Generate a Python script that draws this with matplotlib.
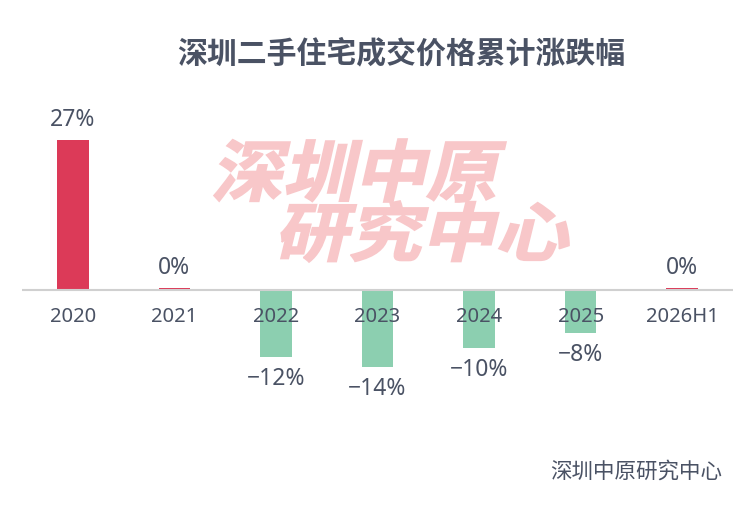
import numpy as np
import matplotlib.pyplot as plt
from matplotlib.textpath import TextPath
from matplotlib.patches import PathPatch
from matplotlib.font_manager import FontProperties
from matplotlib.transforms import Affine2D, IdentityTransform

plt.rcParams['font.family'] = ['Noto Sans CJK SC', 'DejaVu Sans']

# 数据
categories = ['2020', '2021', '2022', '2023', '2024', '2025', '2026H1']
values = [27.0, 0.3, -12.0, -13.9, -10.4, -7.7, 0.3]
labels = ['27%', '0%', '−12%', '−14%', '−10%', '−8%', '0%']

title = '深圳二手住宅成交价格累计涨跌幅'
source = '深圳中原研究中心'
watermark = ['深圳中原', '研究中心']

red = '#dc3a58'
green = '#8ccfb0'
txt = '#4a5264'
num_font = ['Noto Sans', 'Noto Sans CJK SC']

W, H = 755, 515
fig = plt.figure(figsize=(W / 100, H / 100), dpi=100)
fig.patch.set_facecolor('white')

# 水印 (斜体粗字)
fp = FontProperties(family='Noto Sans CJK SC', weight='heavy')
boxes = [(213, 138, 507, 203), (280, 200, 570, 263)]  # left, top, right, bottom (px from top)
for s, (l, t, r, b) in zip(watermark, boxes):
    p = TextPath((0, 0), s, size=70, prop=fp)
    p = p.transformed(Affine2D().skew_deg(12, 0))
    e = p.get_extents()
    tr = (Affine2D().translate(-e.x0, -e.y0)
          .scale((r - l - 2) / e.width, (b - t - 2) / e.height)
          .translate(l + 1, H - b + 1))
    fig.patches.append(PathPatch(tr.transform_path(p), facecolor='#f8c7c9',
                                 edgecolor='#f8c7c9', lw=1.2, joinstyle='miter',
                                 transform=IdentityTransform(),
                                 figure=fig, zorder=0))

ax = fig.add_axes([22 / W, 1 - 420 / H, (733 - 22) / W, 320 / H])
ax.set_facecolor('none')
ax.set_axisbelow(False)

x = np.arange(len(categories))
colors = [red if v >= 0 else green for v in values]
ax.bar(x, values, width=0.31, color=colors, zorder=1)
ax.axhline(0, color='#d0d0d0', lw=1.5, zorder=1.2)

for xi, v, lab in zip(x, values, labels):
    off = 20 if v >= 0 else -22
    ax.annotate(lab, (xi, v), xytext=(0, off), textcoords='offset pixels',
                ha='center', va='center', fontsize=16.5, color=txt,
                family=num_font)

ax.set_xlim(-0.5, len(categories) - 0.5)
px = 150 / 27.0
ax.set_ylim(-(420 - 290) / px, (290 - 100) / px)
for sp in ax.spines.values():
    sp.set_visible(False)
# 把x轴标签放到0线下
ax.spines['bottom'].set_position(('data', 0))
ax.set_xticks(x)
ax.set_xticklabels(categories, family=num_font)
ax.tick_params(axis='x', length=0, pad=12, colors=txt, labelsize=14.5)
ax.set_yticks([])

fig.text(401 / W, 1 - 53 / H, title, ha='center', va='center',
         fontsize=21.5, fontweight='bold', color=txt)
fig.text(722 / W, 1 - 472 / H, source, ha='right', va='center',
         fontsize=15.5, color=txt)

fig.savefig('out.png', dpi=100, facecolor='white')
